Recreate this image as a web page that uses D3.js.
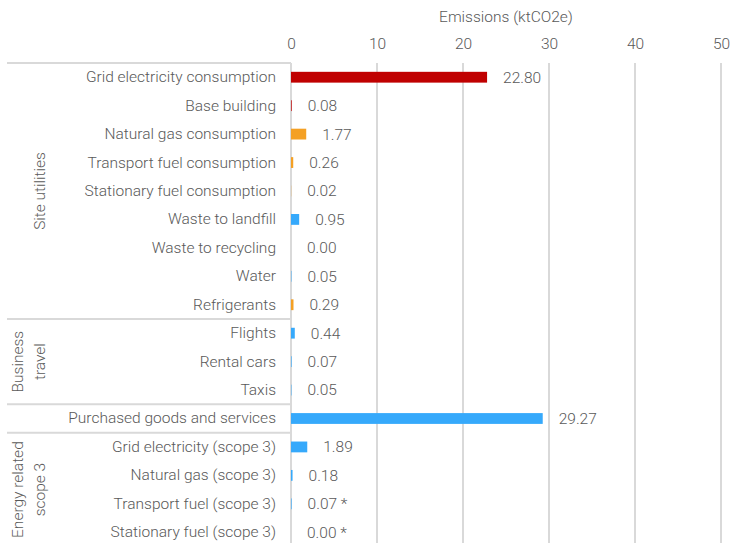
<!DOCTYPE html>
<html>
<head>
<meta charset="utf-8">
<script src="https://cdn.jsdelivr.net/npm/d3@7"></script>
<style>
  html, body { margin: 0; padding: 0; background: #ffffff; }
  svg { display: block; font-family: Roboto, "Liberation Sans", Arial, sans-serif; font-weight: 300; }
</style>
</head>
<body>
<svg id="chart" width="732" height="543"></svg>
<script>
// Emission sources, in display order
const categories = [
  "Grid electricity consumption", "Base building", "Natural gas consumption",
  "Transport fuel consumption", "Stationary fuel consumption", "Waste to landfill",
  "Waste to recycling", "Water", "Refrigerants",
  "Flights", "Rental cars", "Taxis",
  "Purchased goods and services",
  "Grid electricity (scope 3)", "Natural gas (scope 3)",
  "Transport fuel (scope 3)", "Stationary fuel (scope 3)"
];
// Emissions, ktCO2e
const values = [22.80, 0.08, 1.77, 0.26, 0.02, 0.95, 0.00, 0.05, 0.29,
                0.44, 0.07, 0.05, 29.27, 1.89, 0.18, 0.07, 0.00];
// Fuel type of each source (sets the bar colour)
const kinds = ["elec", "elec", "fuel", "fuel", "fuel", "other", "other", "other", "fuel",
               "other", "other", "other", "other", "other", "other", "other", "other"];
// Footnote markers appended to value labels
const notes = ["", "", "", "", "", "", "", "", "", "", "", "", "", "", "", "*", "*"];
// Category groups: label lines, first row, row count
const groupLabels = [["Site utilities"], ["Business", "travel"], [], ["Energy related", "scope 3"]];
const groupStarts = [0, 9, 12, 13];
const groupSizes = [9, 3, 1, 4];
const xTicks = [0, 10, 20, 30, 40, 50];
const axisTitle = "Emissions (ktCO2e)";

const colors = { elec: "#c00000", fuel: "#f4a024", other: "#36a9fb" };
const textColor = "#595959";
const lineColor = "#d9d9d9";
const fontSize = 15.5;

const svg = d3.select("#chart");
const plotLeft = 291, plotRight = 721, plotTop = 63, band = 28.44;

const x = d3.scaleLinear().domain([0, 50]).range([plotLeft, plotRight]);
const y = d3.scaleBand().domain(categories)
  .range([plotTop, plotTop + band * categories.length]).paddingInner(0.62).paddingOuter(0.31);

// vertical gridlines
svg.append("g").selectAll("line").data(xTicks.filter(d => d > 0)).join("line")
  .attr("x1", d => x(d)).attr("x2", d => x(d))
  .attr("y1", plotTop).attr("y2", 543)
  .attr("stroke", lineColor).attr("stroke-width", 2);

// top axis tick labels
const xAxis = svg.append("g").attr("transform", `translate(0,${plotTop})`)
  .call(d3.axisTop(x).tickValues(xTicks).tickSize(0).tickPadding(14));
xAxis.select(".domain").remove();
xAxis.selectAll("text").attr("fill", textColor).attr("font-size", fontSize)
  .attr("font-family", "Roboto, sans-serif").attr("font-weight", 300);

svg.append("text").attr("x", (plotLeft + plotRight) / 2).attr("y", 22)
  .attr("text-anchor", "middle").attr("fill", textColor).attr("font-size", fontSize)
  .text(axisTitle);

// category axis line
svg.append("line").attr("x1", plotLeft).attr("x2", plotLeft).attr("y1", plotTop).attr("y2", 543)
  .attr("stroke", lineColor).attr("stroke-width", 2);

// group separators
svg.append("g").selectAll("line").data(groupStarts).join("line")
  .attr("x1", 7).attr("x2", plotLeft)
  .attr("y1", d => plotTop + d * band).attr("y2", d => plotTop + d * band)
  .attr("stroke", lineColor).attr("stroke-width", 2);

// category labels
const yAxis = svg.append("g").attr("transform", `translate(${plotLeft - 15},0)`)
  .call(d3.axisLeft(y).tickSize(0).tickPadding(0));
yAxis.select(".domain").remove();
yAxis.selectAll("text").attr("fill", textColor).attr("font-size", fontSize)
  .attr("font-family", "Roboto, sans-serif").attr("font-weight", 300);

// group labels (rotated)
groupLabels.forEach((lines, i) => {
  if (!lines.length) return;
  const cy = plotTop + (groupStarts[i] + groupSizes[i] / 2) * band;
  const n = lines.length;
  lines.forEach((t, j) => {
    const cx = n === 1 ? 40 : 18 + j * 22;
    svg.append("text")
      .attr("transform", `translate(${cx + 5},${cy}) rotate(-90)`)
      .attr("text-anchor", "middle").attr("fill", textColor).attr("font-size", fontSize)
      .text(t);
  });
});

// bars
svg.append("g").selectAll("rect").data(categories).join("rect")
  .attr("x", x(0))
  .attr("y", d => y(d))
  .attr("width", (d, i) => x(values[i]) - x(0))
  .attr("height", y.bandwidth())
  .attr("fill", (d, i) => colors[kinds[i]]);

// value labels
const fmt = d3.format(".2f");
svg.append("g").selectAll("text").data(categories).join("text")
  .attr("x", (d, i) => x(values[i]) + 16)
  .attr("y", d => y(d) + y.bandwidth() / 2)
  .attr("dy", "0.35em")
  .attr("fill", textColor).attr("font-size", fontSize)
  .text((d, i) => fmt(values[i]) + (notes[i] ? " " + notes[i] : ""));
</script>
</body>
</html>
